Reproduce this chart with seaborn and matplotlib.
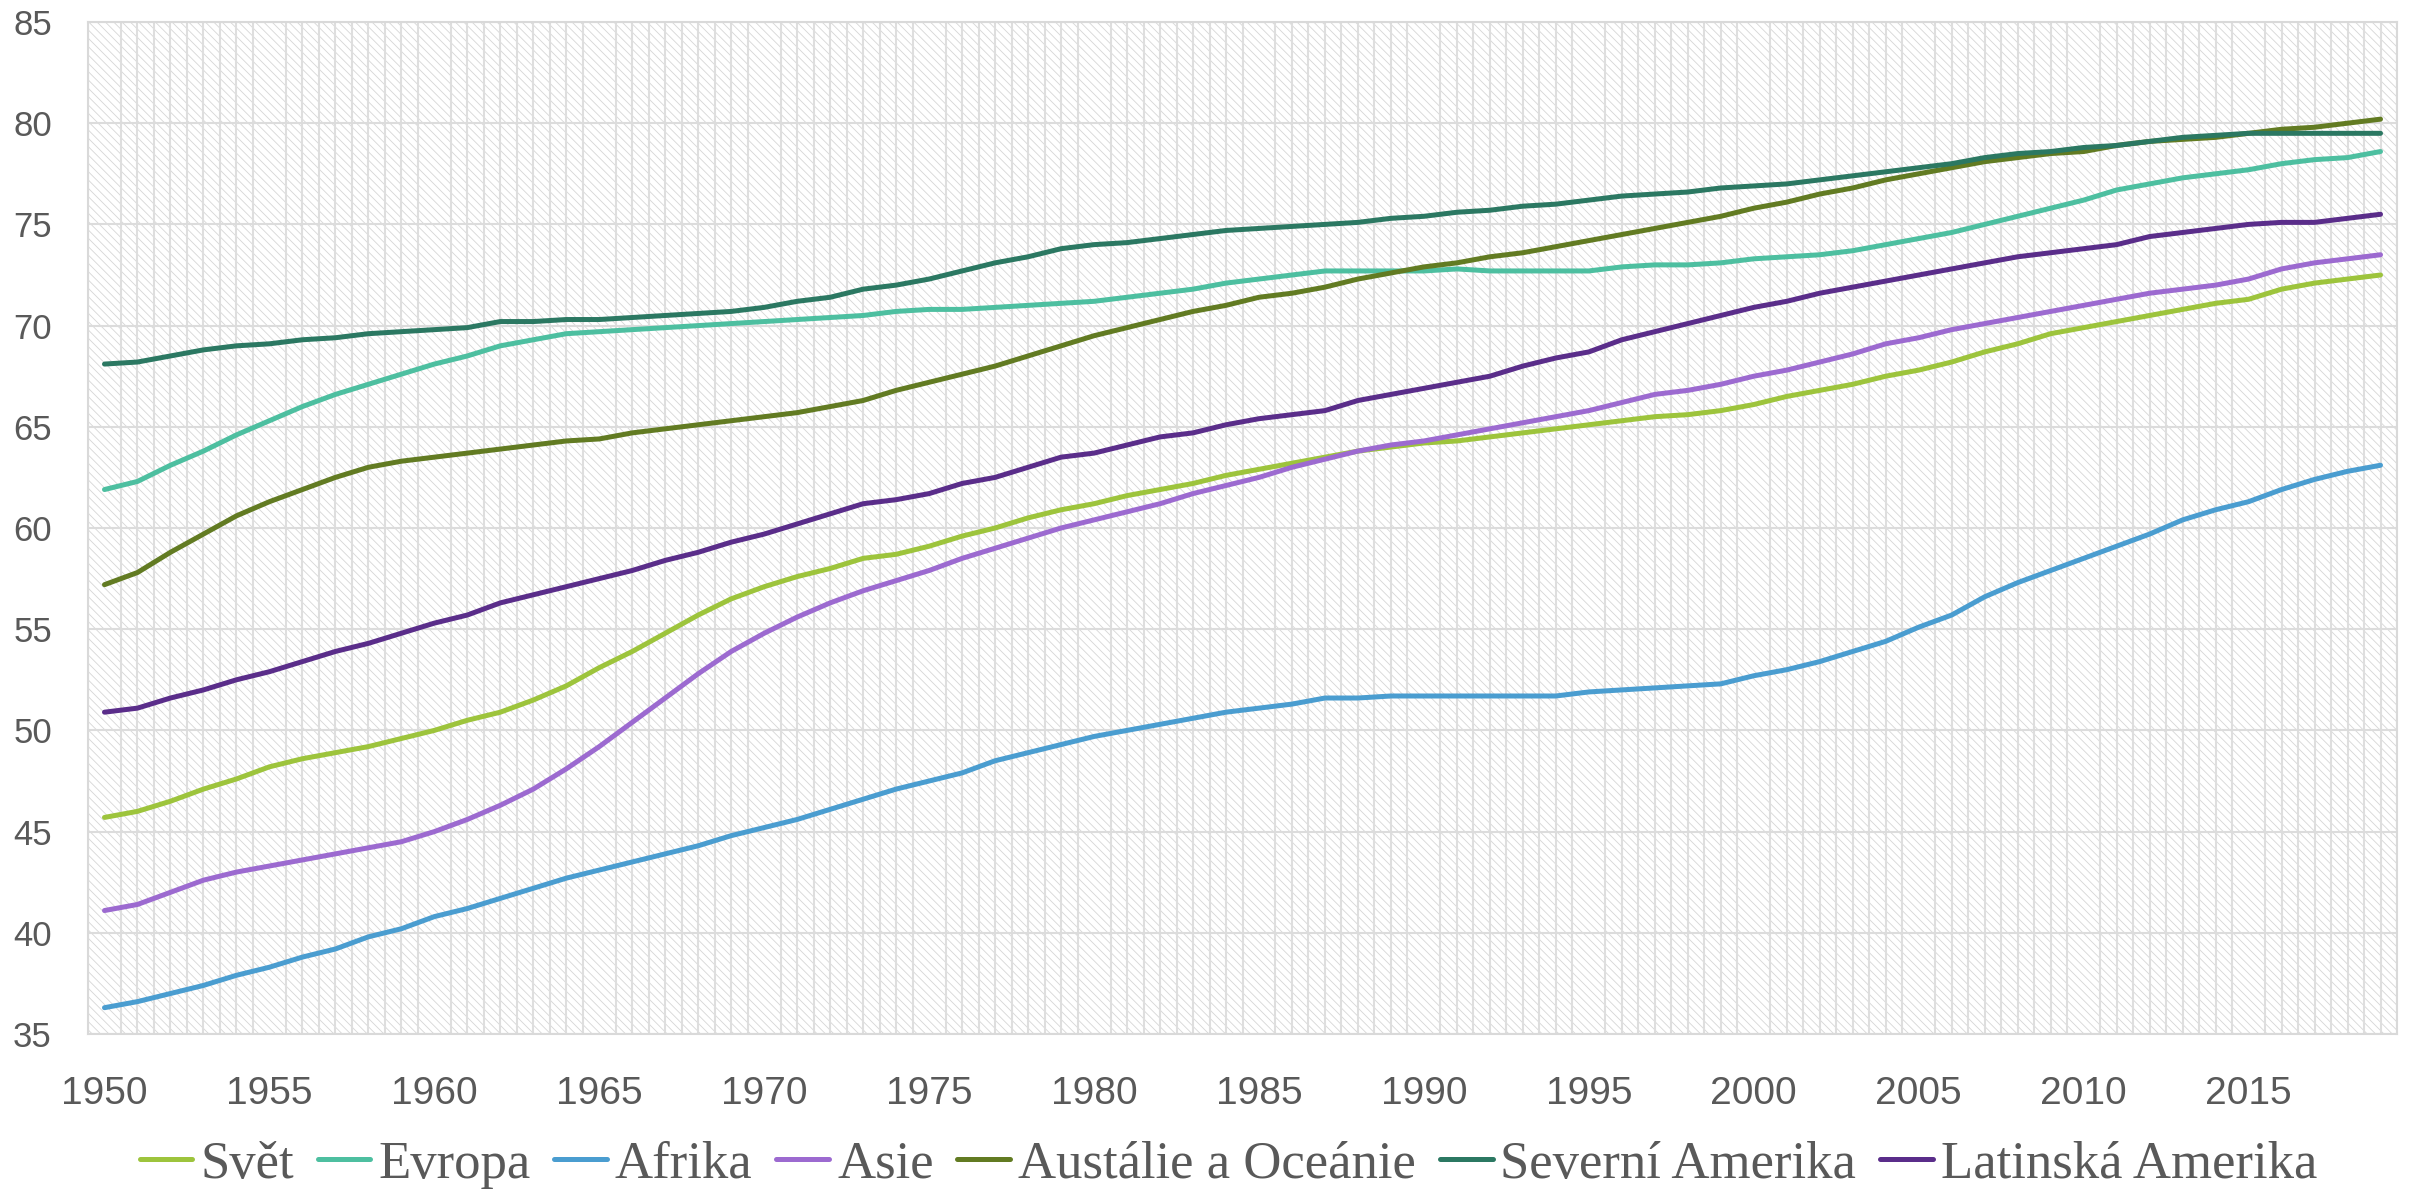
import numpy as np
import pandas as pd
import matplotlib
matplotlib.use("Agg")
import matplotlib.pyplot as plt
from matplotlib.patches import Rectangle
import seaborn as sns

years = list(range(1950, 2020))

svet = [45.7, 46.0, 46.5, 47.1, 47.6, 48.2, 48.6, 48.9, 49.2, 49.6,
        50.0, 50.5, 50.9, 51.5, 52.2, 53.1, 53.9, 54.8, 55.7, 56.5,
        57.1, 57.6, 58.0, 58.5, 58.7, 59.1, 59.6, 60.0, 60.5, 60.9,
        61.2, 61.6, 61.9, 62.2, 62.6, 62.9, 63.2, 63.5, 63.8, 64.0,
        64.2, 64.3, 64.5, 64.7, 64.9, 65.1, 65.3, 65.5, 65.6, 65.8,
        66.1, 66.5, 66.8, 67.1, 67.5, 67.8, 68.2, 68.7, 69.1, 69.6,
        69.9, 70.2, 70.5, 70.8, 71.1, 71.3, 71.8, 72.1, 72.3, 72.5]
evropa = [61.9, 62.3, 63.1, 63.8, 64.6, 65.3, 66.0, 66.6, 67.1, 67.6,
          68.1, 68.5, 69.0, 69.3, 69.6, 69.7, 69.8, 69.9, 70.0, 70.1,
          70.2, 70.3, 70.4, 70.5, 70.7, 70.8, 70.8, 70.9, 71.0, 71.1,
          71.2, 71.4, 71.6, 71.8, 72.1, 72.3, 72.5, 72.7, 72.7, 72.7,
          72.7, 72.8, 72.7, 72.7, 72.7, 72.7, 72.9, 73.0, 73.0, 73.1,
          73.3, 73.4, 73.5, 73.7, 74.0, 74.3, 74.6, 75.0, 75.4, 75.8,
          76.2, 76.7, 77.0, 77.3, 77.5, 77.7, 78.0, 78.2, 78.3, 78.6]
afrika = [36.3, 36.6, 37.0, 37.4, 37.9, 38.3, 38.8, 39.2, 39.8, 40.2,
          40.8, 41.2, 41.7, 42.2, 42.7, 43.1, 43.5, 43.9, 44.3, 44.8,
          45.2, 45.6, 46.1, 46.6, 47.1, 47.5, 47.9, 48.5, 48.9, 49.3,
          49.7, 50.0, 50.3, 50.6, 50.9, 51.1, 51.3, 51.6, 51.6, 51.7,
          51.7, 51.7, 51.7, 51.7, 51.7, 51.9, 52.0, 52.1, 52.2, 52.3,
          52.7, 53.0, 53.4, 53.9, 54.4, 55.1, 55.7, 56.6, 57.3, 57.9,
          58.5, 59.1, 59.7, 60.4, 60.9, 61.3, 61.9, 62.4, 62.8, 63.1]
asie = [41.1, 41.4, 42.0, 42.6, 43.0, 43.3, 43.6, 43.9, 44.2, 44.5,
        45.0, 45.6, 46.3, 47.1, 48.1, 49.2, 50.4, 51.6, 52.8, 53.9,
        54.8, 55.6, 56.3, 56.9, 57.4, 57.9, 58.5, 59.0, 59.5, 60.0,
        60.4, 60.8, 61.2, 61.7, 62.1, 62.5, 63.0, 63.4, 63.8, 64.1,
        64.3, 64.6, 64.9, 65.2, 65.5, 65.8, 66.2, 66.6, 66.8, 67.1,
        67.5, 67.8, 68.2, 68.6, 69.1, 69.4, 69.8, 70.1, 70.4, 70.7,
        71.0, 71.3, 71.6, 71.8, 72.0, 72.3, 72.8, 73.1, 73.3, 73.5]
oceanie = [57.2, 57.8, 58.8, 59.7, 60.6, 61.3, 61.9, 62.5, 63.0, 63.3,
           63.5, 63.7, 63.9, 64.1, 64.3, 64.4, 64.7, 64.9, 65.1, 65.3,
           65.5, 65.7, 66.0, 66.3, 66.8, 67.2, 67.6, 68.0, 68.5, 69.0,
           69.5, 69.9, 70.3, 70.7, 71.0, 71.4, 71.6, 71.9, 72.3, 72.6,
           72.9, 73.1, 73.4, 73.6, 73.9, 74.2, 74.5, 74.8, 75.1, 75.4,
           75.8, 76.1, 76.5, 76.8, 77.2, 77.5, 77.8, 78.1, 78.3, 78.5,
           78.6, 78.9, 79.1, 79.2, 79.3, 79.5, 79.7, 79.8, 80.0, 80.2]
sev_amerika = [68.1, 68.2, 68.5, 68.8, 69.0, 69.1, 69.3, 69.4, 69.6, 69.7,
               69.8, 69.9, 70.2, 70.2, 70.3, 70.3, 70.4, 70.5, 70.6, 70.7,
               70.9, 71.2, 71.4, 71.8, 72.0, 72.3, 72.7, 73.1, 73.4, 73.8,
               74.0, 74.1, 74.3, 74.5, 74.7, 74.8, 74.9, 75.0, 75.1, 75.3,
               75.4, 75.6, 75.7, 75.9, 76.0, 76.2, 76.4, 76.5, 76.6, 76.8,
               76.9, 77.0, 77.2, 77.4, 77.6, 77.8, 78.0, 78.3, 78.5, 78.6,
               78.8, 78.9, 79.1, 79.3, 79.4, 79.5, 79.5, 79.5, 79.5, 79.5]
lat_amerika = [50.9, 51.1, 51.6, 52.0, 52.5, 52.9, 53.4, 53.9, 54.3, 54.8,
               55.3, 55.7, 56.3, 56.7, 57.1, 57.5, 57.9, 58.4, 58.8, 59.3,
               59.7, 60.2, 60.7, 61.2, 61.4, 61.7, 62.2, 62.5, 63.0, 63.5,
               63.7, 64.1, 64.5, 64.7, 65.1, 65.4, 65.6, 65.8, 66.3, 66.6,
               66.9, 67.2, 67.5, 68.0, 68.4, 68.7, 69.3, 69.7, 70.1, 70.5,
               70.9, 71.2, 71.6, 71.9, 72.2, 72.5, 72.8, 73.1, 73.4, 73.6,
               73.8, 74.0, 74.4, 74.6, 74.8, 75.0, 75.1, 75.1, 75.3, 75.5]

series_names = ["Svět", "Evropa", "Afrika", "Asie", "Austálie a Oceánie",
                "Severní Amerika", "Latinská Amerika"]
series_values = [svet, evropa, afrika, asie, oceanie, sev_amerika, lat_amerika]
series_colors = ["#9DC43C", "#4DBFA0", "#4A9DD0", "#9C6AD0", "#627B22",
                 "#2B7862", "#5A2D8A"]

y_ticks = [35, 40, 45, 50, 55, 60, 65, 70, 75, 80, 85]
x_ticks = list(range(1950, 2020, 5))

df = pd.DataFrame({
    "rok": years * len(series_names),
    "hodnota": [v for vals in series_values for v in vals],
    "region": [n for n in series_names for _ in years],
})

sns.set_style("white")
plt.rcParams["hatch.color"] = "#d6d6d6"
plt.rcParams["hatch.linewidth"] = 0.6

fig = plt.figure(figsize=(24.18, 11.94), dpi=100)
ax = fig.add_axes([88 / 2418, 1 - 1034 / 1194, (2397 - 88) / 2418, (1034 - 22) / 1194])

hatch = Rectangle((0, 0), 1, 1, transform=ax.transAxes, facecolor="white",
                  edgecolor="#d6d6d6", hatch="\\\\\\\\", linewidth=0, zorder=0.1)
ax.add_patch(hatch)

sns.lineplot(data=df, x="rok", y="hodnota", hue="region", hue_order=series_names,
             palette=dict(zip(series_names, series_colors)), linewidth=3.6,
             ax=ax, legend=True, zorder=3)

ax.set_xlim(1949.5, 2019.5)
ax.set_ylim(35, 85)
ax.set_yticks(y_ticks)
ax.set_xticks(x_ticks)
ax.set_xticks(np.arange(1949.5, 2020, 0.5), minor=True)
ax.set_xlabel("")
ax.set_ylabel("")

ax.set_axisbelow(True)
ax.grid(False)
ax.grid(which="major", axis="y", color="#dcdcdc", linewidth=1.5, zorder=0.5)
ax.grid(which="minor", axis="x", color="#dedede", linewidth=1.5, zorder=0.5)

ax.tick_params(axis="both", which="both", length=0)
ax.tick_params(axis="y", pad=26, labelsize=25, labelcolor="#595959")
ax.tick_params(axis="x", pad=30, labelsize=28, labelcolor="#595959")
for lab in ax.get_xticklabels() + ax.get_yticklabels():
    lab.set_fontfamily("Liberation Sans")

for s in ax.spines.values():
    s.set_color("#d9d9d9")
    s.set_linewidth(1.5)

handles, labels = ax.get_legend_handles_labels()
ax.get_legend().remove()
for h in handles:
    h.set_linewidth(3.6)
fig.legend(handles, labels, loc="center", bbox_to_anchor=(0.508, 0.0245), ncol=7,
           frameon=False, prop={"family": "Liberation Serif", "size": 38},
           labelcolor="#595959", handlelength=1.0, handletextpad=0.15,
           columnspacing=0.45, borderaxespad=0)

fig.savefig("out.png", dpi=100)
